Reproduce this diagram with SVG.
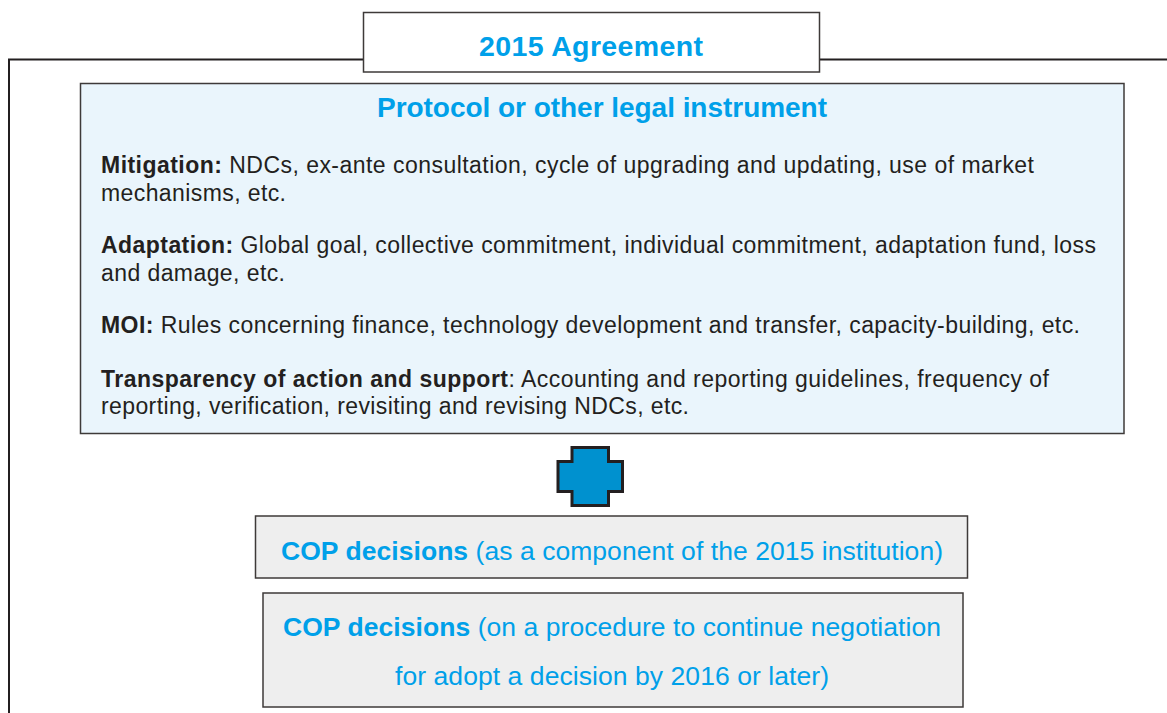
<svg xmlns="http://www.w3.org/2000/svg" width="1167" height="713" viewBox="0 0 1167 713">
<style>
.frame{fill:none;stroke:#231f20;stroke-width:2}
.box{stroke:#3e3a39;stroke-width:1.5}
.blue{fill:#00a0e9;font-family:"Liberation Sans",Arial,sans-serif}
.b{font-weight:bold}
.body{fill:#231f20;font-family:"Liberation Sans",Arial,sans-serif;font-size:23px}
</style>
<rect width="1167" height="713" fill="#ffffff"/>
<g id="connectors">
<path class="frame" d="M9,713 V59.5 H1167"/>
</g>
<g id="agreement">
<rect class="box" x="363.5" y="12.5" width="456" height="59.5" fill="#ffffff"/>
<text class="blue b" x="591" y="56" font-size="28.5" text-anchor="middle" textLength="224">2015 Agreement</text>
</g>
<g id="protocol">
<rect class="box" x="80.5" y="83.5" width="1043.5" height="350" fill="#eaf5fc"/>
<text class="blue b" x="602" y="116.5" font-size="28" text-anchor="middle" textLength="450">Protocol or other legal instrument</text>
<text class="body" x="101" y="173" textLength="933"><tspan class="b">Mitigation:</tspan> NDCs, ex-ante consultation, cycle of upgrading and updating, use of market</text>
<text class="body" x="101" y="201" textLength="185">mechanisms, etc.</text>
<text class="body" x="101" y="253" textLength="995"><tspan class="b">Adaptation:</tspan> Global goal, collective commitment, individual commitment, adaptation fund, loss</text>
<text class="body" x="101" y="281" textLength="184">and damage, etc.</text>
<text class="body" x="101" y="333" textLength="979"><tspan class="b">MOI:</tspan> Rules concerning finance, technology development and transfer, capacity-building, etc.</text>
<text class="body" x="101" y="386.5" textLength="948"><tspan class="b">Transparency of action and support</tspan>: Accounting and reporting guidelines, frequency of</text>
<text class="body" x="101" y="413.5" textLength="588">reporting, verification, revisiting and revising NDCs, etc.</text>
</g>
<g id="plus">
<path d="M572,447.5 H608.5 V461.5 H622.5 V491.5 H608.5 V505.5 H572 V491.5 H558 V461.5 H572 Z" fill="#0091cf" stroke="#231f20" stroke-width="3"/>
</g>
<g id="cop1">
<rect class="box" x="255.5" y="516" width="712" height="62" fill="#eeeeee"/>
<text class="blue" x="612" y="559.5" font-size="26.5" text-anchor="middle" textLength="662"><tspan class="b">COP decisions</tspan> (as a component of the 2015 institution)</text>
</g>
<g id="cop2">
<rect class="box" x="263" y="593" width="700" height="114" fill="#eeeeee"/>
<text class="blue" x="612" y="636" font-size="26.5" text-anchor="middle" textLength="658"><tspan class="b">COP decisions</tspan> (on a procedure to continue negotiation</text>
<text class="blue" x="612" y="685" font-size="26.5" text-anchor="middle" textLength="434">for adopt a decision by 2016 or later)</text>
</g>
</svg>
